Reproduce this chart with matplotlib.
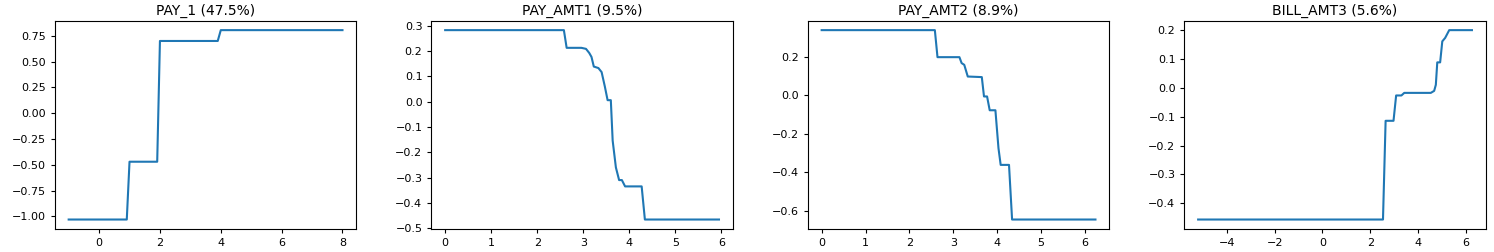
import matplotlib
matplotlib.use("Agg")
import matplotlib.pyplot as plt
from matplotlib.ticker import MultipleLocator

# partial dependence curves
titles = ["PAY_1 (47.5%)", "PAY_AMT1 (9.5%)", "PAY_AMT2 (8.9%)", "BILL_AMT3 (5.6%)"]

pay1_x = [-1.0, 0.91, 1.0, 1.91, 2.0, 3.9, 4.0, 8.0]
pay1_y = [-1.03, -1.03, -0.47, -0.47, 0.70, 0.70, 0.805, 0.805]

amt1_x = [0.0, 2.58, 2.64, 2.96, 3.06, 3.13, 3.18, 3.23, 3.33, 3.40, 3.47, 3.53,
          3.60, 3.64, 3.71, 3.78, 3.84, 3.91, 4.27, 4.34, 5.95]
amt1_y = [0.283, 0.283, 0.213, 0.213, 0.209, 0.193, 0.177, 0.139, 0.133, 0.117, 0.060, 0.006,
          0.006, -0.154, -0.26, -0.31, -0.31, -0.335, -0.335, -0.466, -0.466]

amt2_x = [0.0, 2.58, 2.64, 3.14, 3.19, 3.25, 3.33, 3.65, 3.70, 3.77, 3.83, 3.96,
          4.03, 4.08, 4.27, 4.34, 6.24]
amt2_y = [0.341, 0.341, 0.20, 0.20, 0.169, 0.160, 0.099, 0.096, -0.005, -0.005, -0.077, -0.077,
          -0.275, -0.362, -0.362, -0.647, -0.647]

bill3_x = [-5.2, 2.53, 2.64, 2.97, 3.08, 3.30, 3.42, 4.53, 4.67, 4.74, 4.80, 4.92,
           5.01, 5.13, 5.30, 6.25]
bill3_y = [-0.457, -0.457, -0.114, -0.114, -0.026, -0.026, -0.017, -0.017, -0.01, 0.011, 0.089, 0.089,
           0.162, 0.174, 0.201, 0.201]

curves = [(pay1_x, pay1_y), (amt1_x, amt1_y), (amt2_x, amt2_y), (bill3_x, bill3_y)]
x_steps = [2, 1, 1, 2]
y_steps = [0.25, 0.1, 0.2, 0.1]

fig, axes = plt.subplots(1, 4, figsize=(14.94, 2.52), dpi=100)
fig.subplots_adjust(left=0.0368, right=0.9944, top=0.918, bottom=0.0913, wspace=0.25)

for ax, title, (xs, ys), xs_step, ys_step in zip(axes, titles, curves, x_steps, y_steps):
    ax.plot(xs, ys, color="#1f77b4", linewidth=1.5)
    ax.set_title(title, fontsize=10, pad=4)
    ax.xaxis.set_major_locator(MultipleLocator(xs_step))
    ax.yaxis.set_major_locator(MultipleLocator(ys_step))
    ax.tick_params(labelsize=8, length=3)

plt.savefig("out.png", dpi=100)
